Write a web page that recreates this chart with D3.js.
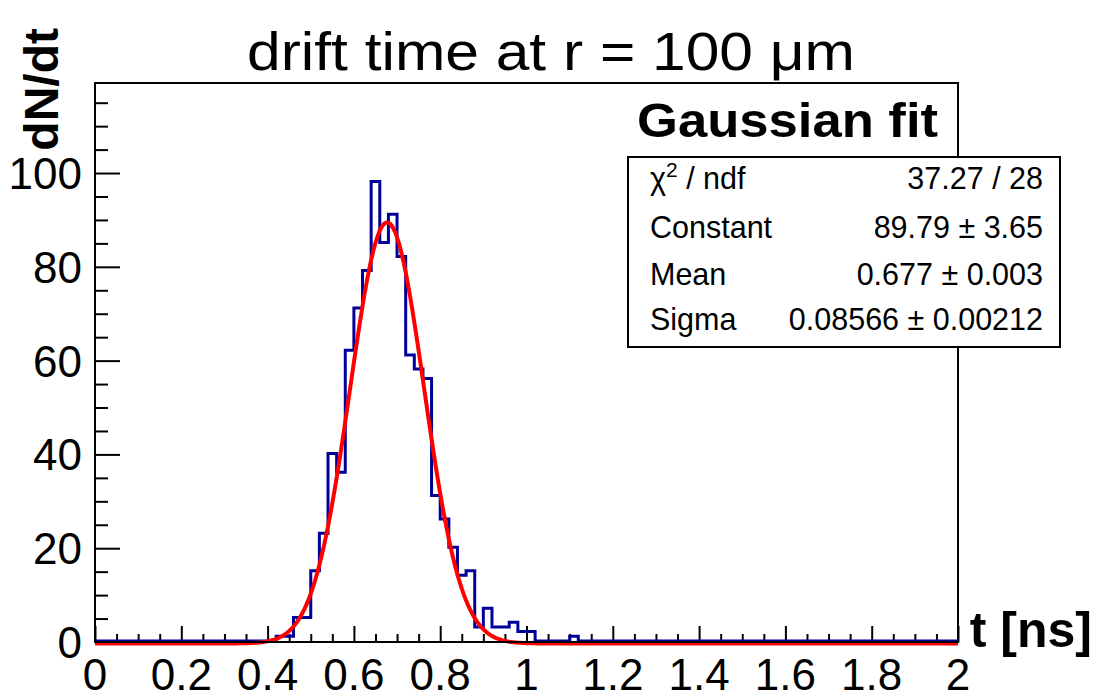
<!DOCTYPE html>
<html>
<head>
<meta charset="utf-8">
<script src="https://cdn.jsdelivr.net/npm/d3@7"></script>
<style>
  body { margin: 0; background: #fff; }
  text { font-family: "Liberation Sans", Arial, sans-serif; }
</style>
</head>
<body>
<div id="Canvas"></div>
<script>
// histogram: 100 bins of 0.02 ns between 0 and 2, only the filled bins are listed
let binStart = [0.42, 0.44, 0.46, 0.48, 0.50, 0.52, 0.54, 0.56, 0.58, 0.60,
                0.62, 0.64, 0.66, 0.68, 0.70, 0.72, 0.74, 0.76, 0.78, 0.80,
                0.82, 0.84, 0.86, 0.88, 0.90, 0.92, 0.94, 0.96, 0.98, 1.00, 1.10]
let binCount = [1, 1, 5, 5, 15, 23, 40, 36, 62, 71,
                79, 98, 85, 91, 82, 61, 58, 56, 31, 26,
                20, 14, 15, 3, 7, 3, 3, 4, 2, 2, 1]
let nBins = 100
let binWidth = 0.02
// fit result (stat box)
let statNames = ["Constant", "Mean", "Sigma"]
let statValues = ["89.79 \u00b1 3.65", "0.677 \u00b1 0.003", "0.08566 \u00b1 0.00212"]
let fitConstant = 89.79, fitMean = 0.677, fitSigma = 0.08566
let chi2Text = "37.27 / 28"
// axis ticks
let xMajor = [0, 0.2, 0.4, 0.6, 0.8, 1, 1.2, 1.4, 1.6, 1.8, 2]
let yMajor = [0, 20, 40, 60, 80, 100]

let W = 1102, H = 700
let padL = 95, padR = 958, padT = 83, padB = 642

let svg = d3.select("#Canvas")
    .append("svg")
    .attr("width", W)
    .attr("height", H)

let xScale = d3.scaleLinear().domain([0, 2]).range([padL, padR])
let yScale = d3.scaleLinear().domain([0, 119.2]).range([padB, padT])

//完整的bin
let hist = d3.range(nBins).map(i => {
    let x0 = i * binWidth
    let k = binStart.findIndex(b => Math.abs(b - x0) < 1e-6)
    return { x: x0, n: k >= 0 ? binCount[k] : 0 }
})
hist.push({ x: 2, n: hist[nBins - 1].n })

//minor ticks
let xMinor = d3.range(0, 2.0001, 0.05).filter(v => Math.abs(v / 0.2 - Math.round(v / 0.2)) > 1e-6)
let yMinor = d3.range(0, 119, 5).filter(v => v % 20 != 0)

// x axis
let xAxisMajor = d3.axisTop(xScale).tickValues(xMajor).tickSize(16).tickFormat("")
let xAxisMinor = d3.axisTop(xScale).tickValues(xMinor).tickSize(8).tickFormat("")
svg.append("g").attr("transform", `translate(0,${padB})`).call(xAxisMajor)
svg.append("g").attr("transform", `translate(0,${padB})`).call(xAxisMinor)
let yAxisMajor = d3.axisRight(yScale).tickValues(yMajor).tickSize(25).tickFormat("")
let yAxisMinor = d3.axisRight(yScale).tickValues(yMinor).tickSize(13).tickFormat("")
svg.append("g").attr("transform", `translate(${padL},0)`).call(yAxisMajor)
svg.append("g").attr("transform", `translate(${padL},0)`).call(yAxisMinor)
svg.selectAll(".domain").remove()
svg.selectAll(".tick line").attr("stroke", "#000").attr("stroke-width", 2)

// tick labels
svg.append("g")
    .selectAll("text")
    .data(xMajor)
    .enter()
    .append("text")
    .attr("x", d => xScale(d))
    .attr("y", 690)
    .attr("text-anchor", "middle")
    .style("font-size", "44px")
    .text(d => d3.format("~g")(d))
svg.append("g")
    .selectAll("text")
    .data(yMajor)
    .enter()
    .append("text")
    .attr("x", 82)
    .attr("y", d => yScale(d) + 16)
    .attr("text-anchor", "end")
    .style("font-size", "44px")
    .text(d => d)

// histogram
let step = d3.line()
    .x(d => xScale(d.x))
    .y(d => yScale(d.n) - 1)
    .curve(d3.curveStepAfter)
svg.append("path")
    .datum(hist)
    .attr("d", step)
    .attr("fill", "none")
    .attr("stroke", "#000099")
    .attr("stroke-width", 3)

// gaussian fit curve
let fitPts = d3.range(0, 2.0001, 0.005).map(t => ({
    x: t, y: fitConstant * Math.exp(-0.5 * Math.pow((t - fitMean) / fitSigma, 2))
}))
svg.append("path")
    .datum(fitPts)
    .attr("d", d3.line().x(d => xScale(d.x)).y(d => yScale(d.y) + 1.5))
    .attr("fill", "none")
    .attr("stroke", "#ff0000")
    .attr("stroke-width", 4)

// frame
svg.append("rect")
    .attr("x", padL).attr("y", padT)
    .attr("width", padR - padL).attr("height", padB - padT)
    .attr("fill", "none")
    .attr("stroke", "#000")
    .attr("stroke-width", 2)

// title
svg.append("text")
    .attr("x", 551).attr("y", 70)
    .attr("text-anchor", "middle")
    .attr("textLength", 608)
    .attr("lengthAdjust", "spacingAndGlyphs")
    .style("font-size", "54px")
    .text("drift time at r = 100 \u03bcm")

// axis titles
svg.append("text")
    .attr("transform", "translate(58,28) rotate(-90)")
    .attr("text-anchor", "end")
    .style("font-size", "48px")
    .style("font-weight", "bold")
    .text("dN/dt")
svg.append("text")
    .attr("x", 1092).attr("y", 647)
    .attr("text-anchor", "end")
    .style("font-size", "50px")
    .style("font-weight", "bold")
    .text("t [ns]")

// fit label
svg.append("text")
    .attr("x", 938).attr("y", 137)
    .attr("text-anchor", "end")
    .attr("textLength", 301)
    .attr("lengthAdjust", "spacingAndGlyphs")
    .style("font-size", "48px")
    .style("font-weight", "bold")
    .text("Gaussian fit")

// stat box
let sb = { x: 628, y: 157, w: 432, h: 190 }
svg.append("rect")
    .attr("x", sb.x).attr("y", sb.y)
    .attr("width", sb.w).attr("height", sb.h)
    .attr("fill", "#fff")
    .attr("stroke", "#000")
    .attr("stroke-width", 2)

let rowY = [189, 238, 285, 330]
let chiLabel = svg.append("text")
    .attr("x", 650).attr("y", rowY[0])
    .style("font-size", "30.5px")
chiLabel.append("tspan").text("\u03c7")
chiLabel.append("tspan").attr("dy", -12).style("font-size", "21px").text("2")
chiLabel.append("tspan").attr("dy", 12).text(" / ndf")
svg.append("text")
    .attr("x", 1043).attr("y", rowY[0])
    .attr("text-anchor", "end")
    .style("font-size", "30.5px")
    .text(chi2Text)

statNames.forEach((name, i) => {
    svg.append("text")
        .attr("x", 650).attr("y", rowY[i + 1])
        .style("font-size", "30.5px")
        .text(name)
    svg.append("text")
        .attr("x", 1043).attr("y", rowY[i + 1])
        .attr("text-anchor", "end")
        .style("font-size", "30.5px")
        .text(statValues[i])
})
</script>
</body>
</html>
